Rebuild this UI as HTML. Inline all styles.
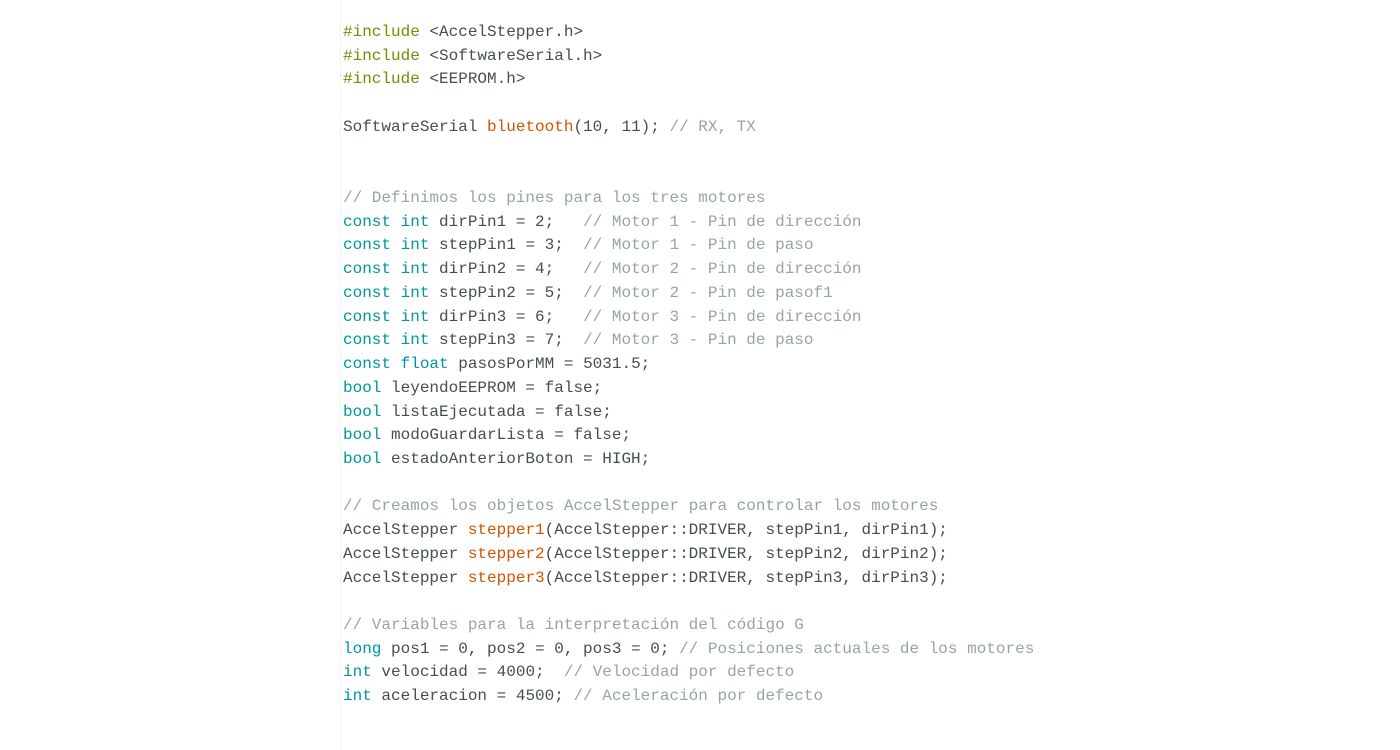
<!DOCTYPE html>
<html><head><meta charset="utf-8"><style>
html,body{margin:0;padding:0;background:#fff;width:1400px;height:750px;overflow:hidden}
.gut{position:absolute;left:340px;top:0;width:1px;height:750px;background:#f2f2f2}
pre{position:absolute;left:343px;top:21px;margin:0;font-family:"Liberation Mono",monospace;font-size:16px;line-height:23.72px;color:#434f54}
.k{color:#00979c}.p{color:#728e00}.f{color:#d35400}.c{color:#95a5a6}
</style></head><body><div class="gut"></div>
<pre><span class="p">#include</span> &lt;AccelStepper.h&gt;
<span class="p">#include</span> &lt;SoftwareSerial.h&gt;
<span class="p">#include</span> &lt;EEPROM.h&gt;

SoftwareSerial <span class="f">bluetooth</span>(10, 11); <span class="c">// RX, TX</span>


<span class="c">// Definimos los pines para los tres motores</span>
<span class="k">const</span> <span class="k">int</span> dirPin1 = 2;   <span class="c">// Motor 1 - Pin de dirección</span>
<span class="k">const</span> <span class="k">int</span> stepPin1 = 3;  <span class="c">// Motor 1 - Pin de paso</span>
<span class="k">const</span> <span class="k">int</span> dirPin2 = 4;   <span class="c">// Motor 2 - Pin de dirección</span>
<span class="k">const</span> <span class="k">int</span> stepPin2 = 5;  <span class="c">// Motor 2 - Pin de pasof1</span>
<span class="k">const</span> <span class="k">int</span> dirPin3 = 6;   <span class="c">// Motor 3 - Pin de dirección</span>
<span class="k">const</span> <span class="k">int</span> stepPin3 = 7;  <span class="c">// Motor 3 - Pin de paso</span>
<span class="k">const</span> <span class="k">float</span> pasosPorMM = 5031.5;
<span class="k">bool</span> leyendoEEPROM = false;
<span class="k">bool</span> listaEjecutada = false;
<span class="k">bool</span> modoGuardarLista = false;
<span class="k">bool</span> estadoAnteriorBoton = HIGH;

<span class="c">// Creamos los objetos AccelStepper para controlar los motores</span>
AccelStepper <span class="f">stepper1</span>(AccelStepper::DRIVER, stepPin1, dirPin1);
AccelStepper <span class="f">stepper2</span>(AccelStepper::DRIVER, stepPin2, dirPin2);
AccelStepper <span class="f">stepper3</span>(AccelStepper::DRIVER, stepPin3, dirPin3);

<span class="c">// Variables para la interpretación del código G</span>
<span class="k">long</span> pos1 = 0, pos2 = 0, pos3 = 0; <span class="c">// Posiciones actuales de los motores</span>
<span class="k">int</span> velocidad = 4000;  <span class="c">// Velocidad por defecto</span>
<span class="k">int</span> aceleracion = 4500; <span class="c">// Aceleración por defecto</span></pre>
</body></html>
